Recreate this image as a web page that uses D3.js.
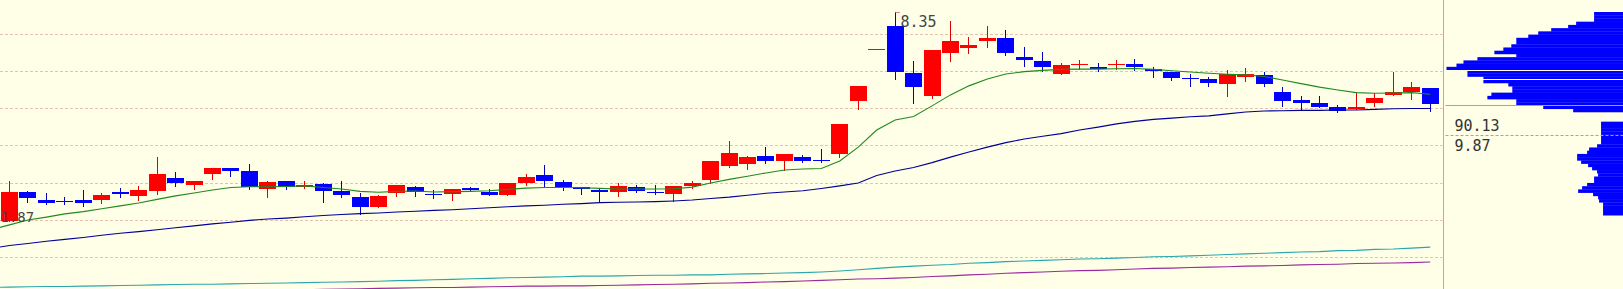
<!DOCTYPE html>
<html>
<head>
<meta charset="utf-8">
<script src="https://cdn.jsdelivr.net/npm/d3@7"></script>
<style>
  body { margin: 0; background: #fffee6; }
  svg { display: block; }
</style>
</head>
<body>
<svg id="chart"></svg>
<script>
var width = 1623, height = 289
var sepX = 1443.5   // divider between k-line panel and chip panel

// daily OHLC
var opens  = [11.87,12.78,12.52,12.50,12.52,12.52,12.78,12.65,12.80,13.20,12.99,13.31,13.51,13.42,12.87,13.11,12.93,13.03,12.81,12.62,
              12.31,12.74,12.92,12.72,12.72,12.89,12.77,12.69,13.05,13.30,13.08,12.92,12.83,12.77,12.92,12.77,12.71,12.96,13.14,13.58,
              13.65,13.89,13.74,13.86,13.76,13.95,15.60,17.19,17.92,16.46,15.75,17.09,17.24,17.46,17.54,16.96,16.83,16.44,16.71,16.64,
              16.70,16.75,16.57,16.50,16.29,16.26,16.10,16.34,16.40,15.87,15.62,15.53,15.40,15.35,15.51,15.79,15.87,15.99]
var highs  = [13.12,12.81,12.75,12.62,12.83,12.73,12.89,12.96,13.86,13.39,13.11,13.51,13.51,13.64,13.11,13.11,13.11,13.06,13.11,12.75,
              12.68,13.00,12.95,12.83,12.86,12.92,12.86,13.05,13.34,13.62,13.14,12.92,12.86,13.05,12.99,12.99,12.96,13.11,13.73,14.35,
              13.89,14.17,13.95,13.93,14.11,14.88,16.06,17.19,18.35,16.83,17.17,18.07,17.58,17.92,17.79,17.27,17.11,16.76,16.85,16.76,
              16.87,16.88,16.65,16.50,16.43,16.33,16.55,16.62,16.49,16.03,15.75,15.75,15.47,15.87,15.83,16.50,16.18,15.99]
var lows   = [11.87,12.47,12.39,12.41,12.34,12.44,12.62,12.52,12.71,12.96,12.86,13.18,13.27,12.86,12.62,12.87,12.90,12.46,12.62,12.09,
              12.31,12.65,12.65,12.59,12.52,12.80,12.69,12.69,12.99,12.92,12.83,12.71,12.47,12.65,12.77,12.71,12.49,12.89,13.05,13.55,
              13.49,13.68,13.45,13.71,13.71,13.86,15.35,17.19,16.27,15.54,15.69,16.83,17.07,17.27,17.01,16.68,16.52,16.44,16.58,16.52,
              16.58,16.55,16.34,16.24,16.06,16.07,15.75,16.21,16.06,15.44,15.31,15.41,15.25,15.35,15.44,15.79,15.66,15.28]
var closes = [12.78,12.60,12.44,12.48,12.44,12.68,12.71,12.83,13.33,13.06,13.11,13.51,13.43,12.92,13.08,12.93,13.00,12.81,12.69,12.31,
              12.65,13.00,12.78,12.69,12.86,12.83,12.69,13.05,13.23,13.11,12.92,12.86,12.77,12.96,12.80,12.73,12.96,13.05,13.73,13.97,
              13.86,13.74,13.95,13.74,13.74,14.88,16.06,17.19,16.50,16.03,17.17,17.45,17.33,17.54,17.09,16.86,16.65,16.71,16.75,16.58,
              16.73,16.65,16.51,16.31,16.26,16.13,16.42,16.43,16.13,15.59,15.54,15.41,15.29,15.40,15.68,15.87,16.02,15.48]

// moving averages; first value belongs to the bar just left of the window
var maShort = [11.60,11.75,11.90,11.99,12.09,12.16,12.25,12.34,12.43,12.54,12.65,12.74,12.83,12.91,12.93,12.93,12.94,12.96,12.91,12.86,
               12.79,12.76,12.79,12.80,12.77,12.78,12.79,12.81,12.85,12.89,12.91,12.91,12.90,12.88,12.86,12.86,12.86,12.87,12.92,13.05,
               13.16,13.26,13.36,13.45,13.48,13.50,13.73,14.16,14.69,15.00,15.11,15.44,15.78,16.06,16.27,16.43,16.50,16.54,16.57,16.58,
               16.58,16.59,16.60,16.57,16.53,16.49,16.45,16.42,16.40,16.35,16.24,16.13,16.02,15.93,15.85,15.83,15.84,15.85,15.80]
var maMid   = [11.02,11.11,11.17,11.24,11.30,11.36,11.43,11.49,11.54,11.60,11.66,11.72,11.78,11.83,11.89,11.93,11.96,12.00,12.04,12.07,
               12.10,12.12,12.15,12.17,12.20,12.22,12.25,12.28,12.31,12.34,12.36,12.39,12.41,12.44,12.45,12.46,12.47,12.49,12.52,12.57,
               12.61,12.67,12.73,12.77,12.81,12.88,12.96,13.05,13.28,13.42,13.53,13.68,13.85,14.01,14.16,14.30,14.41,14.50,14.58,14.69,
               14.78,14.88,14.96,15.02,15.06,15.10,15.13,15.19,15.25,15.28,15.29,15.30,15.30,15.31,15.31,15.33,15.35,15.36,15.36]
var maLong  = [9.81,9.82,9.83,9.84,9.84,9.85,9.86,9.87,9.88,9.89,9.90,9.91,9.91,9.92,9.93,9.94,9.95,9.96,9.97,9.98,
               9.99,10.00,10.02,10.03,10.05,10.06,10.08,10.09,10.11,10.12,10.13,10.14,10.16,10.16,10.17,10.18,10.19,10.19,10.20,10.20,
               10.22,10.23,10.24,10.26,10.27,10.29,10.32,10.36,10.40,10.44,10.47,10.50,10.52,10.56,10.58,10.61,10.63,10.65,10.67,10.69,
               10.70,10.72,10.74,10.76,10.77,10.79,10.81,10.83,10.85,10.87,10.89,10.91,10.92,10.95,10.96,10.99,11.00,11.03,11.06]
var maYear  = [9.57,9.58,9.59,9.60,9.61,9.62,9.63,9.64,9.65,9.66,9.67,9.68,9.69,9.70,9.71,9.72,9.73,9.74,9.75,9.76,
               9.77,9.78,9.79,9.80,9.81,9.81,9.82,9.83,9.84,9.85,9.85,9.86,9.86,9.87,9.88,9.89,9.90,9.91,9.92,9.94,
               9.95,9.96,9.98,9.99,10.01,10.03,10.05,10.07,10.08,10.10,10.12,10.15,10.17,10.20,10.22,10.25,10.27,10.29,10.31,10.33,
               10.34,10.36,10.38,10.40,10.41,10.43,10.44,10.45,10.47,10.48,10.49,10.51,10.52,10.53,10.55,10.56,10.57,10.58,10.60]
var maColors = ['#1f8a1f', '#000099', '#2aa6ae', '#9a2aa0']

// horizontal dashed grid levels
var gridPrices = [17.66, 16.51, 15.36, 14.22, 13.04, 11.89, 10.74]

// chip distribution: bins of 0.1 starting at the top price
var chipTop = 18.35, chipStep = 0.1
var chipVol = [29,29,29,47,55,72,85,95,107,107,112,120,129,107,146,160,167,177,156,156,
               140,140,115,111,111,132,136,107,107,80,50,0,0,0,22,22,22,22,22,22,
               22,26,34,36,46,46,42,35,31,26,25,29,29,36,41,45,30,25,24,20,20,20,20]
var chipGaps = [16.54, 16.28]
var avgCost = 14.53
var profitLabels = ['90.13', '9.87']
var hiLabel = '8.35', loLabel = '1.87'

var n = closes.length
var svg = d3.select('#chart').attr('width', width).attr('height', height)
svg.append('rect').attr('width', width).attr('height', height).attr('fill', '#fffee6')

var x = d3.scaleLinear().domain([0, n - 1]).range([9.5, 1430.2])
var y = d3.scaleLinear().domain([d3.min(lows), d3.max(highs)]).range([221, 12])

var g = svg.append('g')

// grid
g.selectAll('.grid').data(gridPrices).enter().append('line')
  .attr('x1', 0).attr('x2', sepX - 1)
  .attr('y1', d => Math.round(y(d)) + 0.5).attr('y2', d => Math.round(y(d)) + 0.5)
  .attr('stroke', '#e6c2ae').attr('stroke-dasharray', '3,2')

// candles
var idx = d3.range(n)
var up = i => closes[i] >= opens[i]
var left = i => Math.round(x(i) - 8.5)

g.selectAll('.wick').data(idx).enter().append('line')
  .attr('x1', i => left(i) + 8.5).attr('x2', i => left(i) + 8.5)
  .attr('y1', i => Math.round(y(highs[i]))).attr('y2', i => Math.round(y(lows[i])) + 1)
  .attr('stroke', i => up(i) ? '#e00000' : '#0000c0')

g.selectAll('.body').data(idx).enter().append('rect')
  .attr('x', left)
  .attr('width', 17)
  .attr('y', i => Math.round(y(Math.max(opens[i], closes[i]))))
  .attr('height', i => Math.max(1, Math.round(Math.abs(y(opens[i]) - y(closes[i])))))
  .attr('fill', i => up(i) ? '#ff0000' : '#0000ff')

// moving averages
var line = d3.line().x((d, i) => x(i - 1)).y(d => y(d))
;[maShort, maMid, maLong, maYear].forEach((arr, k) => {
  g.append('path').datum(arr)
    .attr('d', line)
    .attr('fill', 'none')
    .attr('stroke', maColors[k])
    .attr('stroke-width', 1.1)
})

// high / low marks
var hiI = d3.maxIndex(highs), loI = d3.minIndex(lows)
g.append('line')
  .attr('x1', left(hiI) + 8.5).attr('x2', left(hiI) + 13)
  .attr('y1', Math.round(y(highs[hiI])) + 0.5).attr('y2', Math.round(y(highs[hiI])) + 0.5)
  .attr('stroke', '#e08888')
g.append('text').text(hiLabel)
  .attr('x', left(hiI) + 13.5).attr('y', y(highs[hiI]) + 15)
  .attr('font-family', 'DejaVu Sans Mono').attr('font-size', 15).attr('fill', '#444')
g.append('text').text(loLabel)
  .attr('x', 0.5).attr('y', y(lows[loI]) + 0.5)
  .attr('font-family', 'DejaVu Sans Mono').attr('font-size', 14).attr('fill', '#444')

// divider
svg.append('line')
  .attr('x1', sepX).attr('x2', sepX).attr('y1', 0).attr('y2', height)
  .attr('stroke', '#e29a8c')

// chip distribution
var chipW = d3.scaleLinear().domain([0, d3.max(chipVol)]).range([0, width - sepX - 3])
var cg = svg.append('g')
cg.selectAll('rect').data(chipVol).enter().append('rect')
  .attr('x', d => width - chipW(d))
  .attr('width', d => chipW(d))
  .attr('y', (d, k) => y(chipTop - chipStep * k))
  .attr('height', (d, k) => y(chipTop - chipStep * (k + 1)) - y(chipTop - chipStep * k) + 0.3)
  .attr('fill', '#0000ff')
cg.selectAll('.gap').data(chipGaps).enter().append('line')
  .attr('x1', sepX + 2).attr('x2', width)
  .attr('y1', d => Math.round(y(d)) + 0.5).attr('y2', d => Math.round(y(d)) + 0.5)
  .attr('stroke', '#fffee6')

// last close and average cost lines
var lastY = Math.round(y(closes[n - 1])) + 0.5
cg.append('line').attr('x1', sepX + 2).attr('x2', width).attr('y1', lastY).attr('y2', lastY)
  .attr('stroke', '#48c8d8')
var avgY = Math.round(y(avgCost)) + 0.5
cg.append('line').attr('x1', sepX + 2).attr('x2', width).attr('y1', avgY).attr('y2', avgY)
  .attr('stroke', '#48c8d8').attr('stroke-dasharray', '3,2')
cg.append('text').text(profitLabels[0])
  .attr('x', sepX + 11).attr('y', avgY - 5)
  .attr('font-family', 'DejaVu Sans Mono').attr('font-size', 15).attr('fill', '#333')
cg.append('text').text(profitLabels[1])
  .attr('x', sepX + 11).attr('y', avgY + 15)
  .attr('font-family', 'DejaVu Sans Mono').attr('font-size', 15).attr('fill', '#333')
</script>
</body>
</html>
